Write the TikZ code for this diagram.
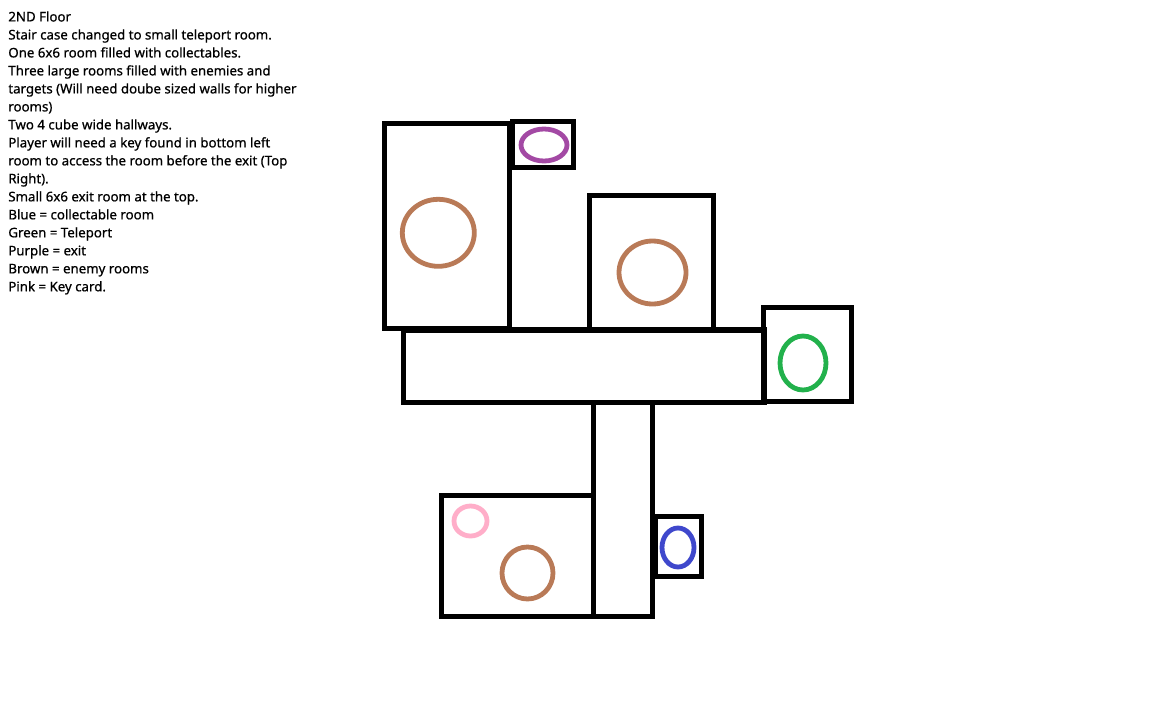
\documentclass[tikz,border=0pt]{standalone}
\usepackage{fontspec}
\setmainfont{Noto Sans}
\newfontfamily\notesfont[FakeBold=0.7]{Noto Sans}
\usepackage{xcolor}
\definecolor{enemybrown}{RGB}{185,122,87}
\definecolor{exitpurple}{RGB}{163,73,164}
\definecolor{teleportgreen}{RGB}{34,177,76}
\definecolor{collectblue}{RGB}{63,72,204}
\definecolor{keypink}{RGB}{255,174,201}

\begin{document}
\begin{tikzpicture}[
    x=0.02cm, y=-0.02cm,
    room/.style={draw=black, line width=0.105cm, line join=miter},
    marker/.style={line width=0.096cm},
    notes/.style={anchor=north west, inner sep=0pt, align=left, font=\notesfont\fontsize{7.55pt}{10.24pt}\selectfont}
]
\useasboundingbox (0,0) rectangle (1152,720);

% Notes
\node[notes] (notes) at (8,11) {2ND Floor\\
Stair case changed to small teleport room.\\
One 6x6 room filled with collectables.\\
Three large rooms filled with enemies and\\
targets (Will need doube sized walls for higher\\
rooms)\\
Two 4 cube wide hallways.\\
Player will need a key found in bottom left\\
room to access the room before the exit (Top\\
Right).\\
Small 6x6 exit room at the top.\\
Blue = collectable room\\
Green = Teleport\\
Purple = exit\\
Brown = enemy rooms\\
Pink = Key card.};

% Rooms
\draw[room] (384.5,123.5) rectangle (509.5,328.5);
\draw[room] (512.5,121.5) rectangle (573.5,167.5);
\draw[room] (589.5,195.5) rectangle (713.5,329.5);
\draw[room] (403.5,330) rectangle (764.5,402.5);
\draw[room] (763.5,307.5) rectangle (851.5,401.5);
\draw[room] (593.5,402.5) rectangle (652.5,616.5);
\draw[room] (441.5,495.5) rectangle (593.5,616.5);
\draw[room] (655.5,516.5) rectangle (701.5,576.5);

% Markers
\draw[marker, enemybrown] (438.3,232.8) ellipse [x radius=36, y radius=33.5];
\draw[marker, enemybrown] (652.5,272.5) ellipse [x radius=33.5, y radius=31.5];
\draw[marker, enemybrown] (527.5,573) ellipse [x radius=25.5, y radius=26];
\draw[marker, exitpurple] (544,145) ellipse [x radius=23, y radius=16];
\draw[marker, teleportgreen] (803,363) ellipse [x radius=23, y radius=27];
\draw[marker, keypink] (470.5,521) ellipse [x radius=16.5, y radius=15];
\draw[marker, collectblue] (678,547.5) ellipse [x radius=16, y radius=19.5];

\end{tikzpicture}
\end{document}
